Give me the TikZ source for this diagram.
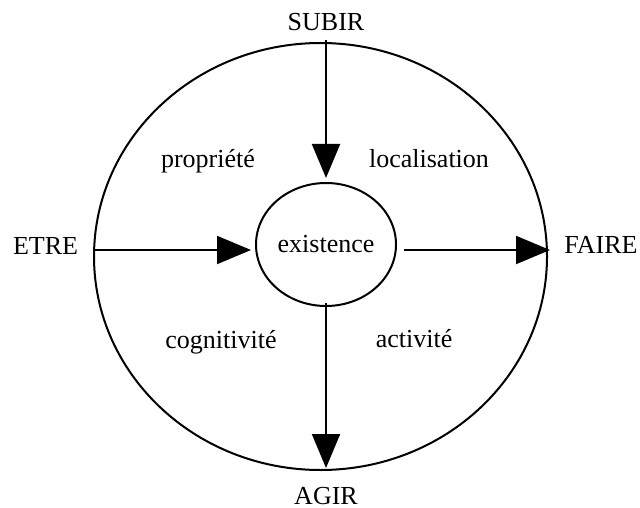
\documentclass[tikz,border=0pt]{standalone}
\usepackage{fontspec}
\setmainfont{Liberation Serif}
\usetikzlibrary{arrows.meta,shapes.geometric}
\tikzset{
	lbl/.style={anchor=base,inner sep=0pt,font=\fontsize{13}{15}\selectfont},
	fl/.style={line width=1pt,-{Triangle[length=17pt,width=14pt]}}
}
\begin{document}
\begin{tikzpicture}[x=.5pt,y=-.5pt]
	\useasboundingbox(0,0)rectangle(640,507);
	\draw[line width=1pt](320.5,256.5)ellipse[x radius=226.5,y radius=213.5];
	\node[draw,ellipse,line width=1pt,minimum width=70pt,minimum height=61.5pt,inner sep=0pt](exist)at(326,244.5){};
	\node[lbl]at(326,252){existence};
	\coordinate(haut)at(326,40);
	\coordinate(gauche)at(94,250);
	\coordinate(droite)at(550,250);
	\coordinate(bas)at(326,468);
	\draw[fl](haut)--([yshift=2pt]exist.north);
	\draw[fl](gauche)--([xshift=-2pt]exist.west|-gauche);
	\draw[fl]([xshift=3.5pt]exist.east|-droite)--(droite);
	\draw[fl]([yshift=2pt]exist.south)--(bas);
	\node[lbl](subir)at(326,31){SUBIR};
	\node[lbl](agir)at(326,504){AGIR};
	\node[lbl](etre)at(45.5,254){ETRE};
	\node[lbl](faire)at(601,253){FAIRE};
	\node[lbl](prop)at(208,168){propriété};
	\node[lbl](loc)at(429,168){localisation};
	\node[lbl](cogn)at(221,348){cognitivité};
	\node[lbl](act)at(414,347){activité};
\end{tikzpicture}
\end{document}
